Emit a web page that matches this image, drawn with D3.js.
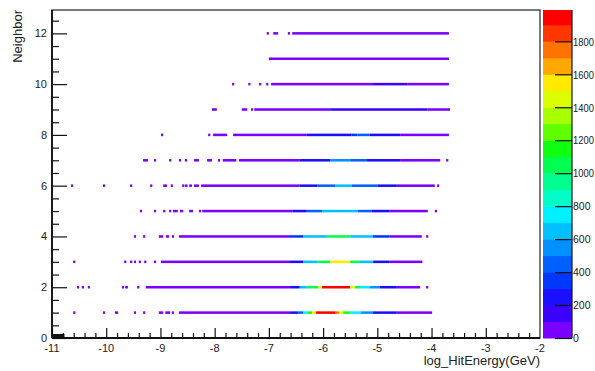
<!DOCTYPE html>
<html>
<head>
<meta charset="utf-8">
<script src="https://cdn.jsdelivr.net/npm/d3@7"></script>
<style>
  html, body { margin: 0; padding: 0; background: #fff; }
  svg { display: block; }
  text { font-family: "Liberation Sans", Arial, Helvetica, sans-serif; fill: #222; }
</style>
</head>
<body>
<svg id="chart" width="595" height="371"></svg>
<script>
// Neighbor rows (y bins) and their filled x-bins: [logE start, logE end, entries]
const neighbors = [1, 2, 3, 4, 5, 6, 7, 8, 9, 10, 11, 12];

const hitsN1 = [
  [-10.61, -10.57, 30], [-10.06, -10.02, 30], [-9.84, -9.78, 30], [-9.49, -9.45, 30],
  [-9.32, -9.28, 30], [-9.03, -8.95, 40], [-8.91, -8.82, 40], [-8.79, -8.75, 40],
  [-8.66, -6.61, 60], [-6.61, -6.46, 250], [-6.46, -6.37, 450], [-6.37, -6.28, 750],
  [-6.28, -6.20, 1100], [-6.20, -6.13, 1500], [-6.13, -5.78, 1950], [-5.78, -5.70, 1700],
  [-5.70, -5.63, 1450], [-5.63, -5.50, 1100], [-5.50, -5.30, 750], [-5.30, -5.08, 550],
  [-5.08, -4.64, 250], [-4.64, -3.99, 60]
];
const hitsN2 = [
  [-10.54, -10.50, 30], [-10.45, -10.41, 30], [-10.34, -10.30, 30], [-9.71, -9.67, 30],
  [-9.65, -9.60, 30], [-9.43, -9.39, 30],
  [-9.27, -6.61, 60], [-6.61, -6.43, 250], [-6.43, -6.30, 600], [-6.30, -6.09, 1050],
  [-6.09, -6.02, 1450], [-6.02, -5.50, 1950], [-5.50, -5.41, 1450], [-5.41, -5.32, 1050],
  [-5.32, -5.14, 750], [-5.14, -4.95, 550], [-4.95, -4.64, 250], [-4.64, -4.21, 60],
  [-4.10, -4.06, 30]
];
const hitsN3 = [
  [-10.61, -10.57, 30], [-9.67, -9.63, 30], [-9.56, -9.52, 30], [-9.49, -9.45, 30],
  [-9.40, -9.36, 30], [-9.30, -9.26, 30], [-9.12, -9.08, 30],
  [-8.99, -6.61, 60], [-6.61, -6.37, 250], [-6.37, -6.11, 650], [-6.11, -5.87, 1050],
  [-5.87, -5.50, 1550], [-5.50, -5.32, 1050], [-5.32, -5.08, 650], [-5.08, -4.77, 250],
  [-4.77, -4.17, 60]
];
const hitsN4 = [
  [-9.49, -9.45, 30], [-9.32, -9.28, 30], [-9.03, -8.95, 40], [-8.90, -8.84, 40],
  [-8.79, -8.75, 30],
  [-8.66, -6.61, 60], [-6.61, -6.37, 300], [-6.37, -5.93, 650], [-5.93, -5.50, 1000],
  [-5.50, -5.08, 650], [-5.08, -4.77, 300], [-4.77, -4.18, 60], [-4.10, -4.06, 30]
];
const hitsN5 = [
  [-9.38, -9.34, 30], [-9.12, -9.08, 30], [-8.95, -8.91, 30], [-8.84, -8.80, 30],
  [-8.77, -8.68, 40], [-8.64, -8.58, 40], [-8.47, -8.40, 40], [-8.29, -8.25, 30],
  [-8.23, -6.56, 60], [-6.56, -6.30, 250], [-6.30, -6.02, 450], [-6.02, -5.36, 650],
  [-5.36, -5.10, 450], [-5.10, -4.77, 250], [-4.77, -4.07, 60], [-3.94, -3.90, 30]
];
const hitsN6 = [
  [-10.65, -10.61, 30], [-10.06, -10.02, 30], [-9.56, -9.52, 30], [-9.19, -9.15, 30],
  [-8.95, -8.88, 40], [-8.81, -8.77, 30], [-8.60, -8.56, 30], [-8.55, -8.50, 40],
  [-8.47, -8.42, 40], [-8.38, -8.29, 40],
  [-8.25, -6.43, 60], [-6.43, -6.10, 250], [-6.10, -5.78, 400], [-5.78, -5.47, 600],
  [-5.47, -5.00, 400], [-5.00, -4.64, 250], [-4.64, -3.94, 60], [-3.90, -3.86, 30]
];
const hitsN7 = [
  [-9.32, -9.23, 40], [-9.12, -9.08, 30], [-8.84, -8.80, 30], [-8.66, -8.62, 30],
  [-8.55, -8.51, 30], [-8.38, -8.29, 40], [-8.14, -8.05, 40], [-7.94, -7.90, 30],
  [-7.85, -7.60, 40],
  [-7.55, -6.43, 60], [-6.43, -5.87, 250], [-5.87, -5.50, 500], [-5.50, -5.19, 400],
  [-5.19, -4.58, 250], [-4.58, -3.84, 60], [-3.73, -3.69, 30]
];
const hitsN8 = [
  [-8.99, -8.95, 30], [-8.12, -8.08, 30], [-8.03, -7.77, 40],
  [-7.66, -6.30, 60], [-6.30, -5.48, 200], [-5.48, -5.37, 300], [-5.37, -5.14, 450],
  [-5.14, -4.58, 200], [-4.58, -3.68, 60]
];
const hitsN9 = [
  [-8.05, -7.96, 40], [-7.50, -7.40, 40], [-7.33, -7.29, 30],
  [-7.27, -5.87, 60], [-5.87, -4.08, 170], [-4.08, -3.66, 60]
];
const hitsN10 = [
  [-7.68, -7.64, 30], [-7.38, -7.34, 30], [-7.18, -7.14, 30], [-7.05, -7.01, 30],
  [-6.96, -5.08, 60], [-5.08, -4.45, 170], [-4.45, -3.68, 60]
];
const hitsN11 = [
  [-7.00, -3.68, 60]
];
const hitsN12 = [
  [-7.04, -7.00, 40], [-6.92, -6.83, 40], [-6.65, -6.61, 40],
  [-6.57, -3.68, 60]
];
const hitsByNeighbor = [hitsN1, hitsN2, hitsN3, hitsN4, hitsN5, hitsN6,
                        hitsN7, hitsN8, hitsN9, hitsN10, hitsN11, hitsN12];

// Axis ranges and tick labels
const xDomain = [-11, -2];
const yDomain = [0, 12.92];
const zDomain = [0, 1990];
const xTicks = [-11, -10, -9, -8, -7, -6, -5, -4, -3, -2];
const yTicks = [0, 2, 4, 6, 8, 10, 12];
const zTicks = [0, 200, 400, 600, 800, 1000, 1200, 1400, 1600, 1800];
const binHalfHeight = 0.05;

// 20-level rainbow palette, low to high
const palette = [
  "#7a00ff", "#3c00ff", "#1a10ff", "#0038ff", "#0060ff",
  "#0090ff", "#00c0ff", "#00f0ff", "#00ffc8", "#00ff90",
  "#00ff50", "#10ff10", "#60ff00", "#a8ff00", "#dcff00",
  "#ffea00", "#ffa800", "#ff7400", "#ff3600", "#ff0000"
];

const svg = d3.select("#chart");
const plot = { left: 52, right: 540, top: 10, bottom: 338 };
const bar = { left: 543, right: 572 };

const x = d3.scaleLinear().domain(xDomain).range([plot.left, plot.right]);
const y = d3.scaleLinear().domain(yDomain).range([plot.bottom, plot.top]);
const z = d3.scaleLinear().domain(zDomain).range([plot.bottom, plot.top]);
const color = d3.scaleQuantize().domain([0, 2000]).range(palette);

// Soft edge for the histogram cells
svg.append("defs").append("filter")
  .attr("id", "soft").attr("x", "-5%").attr("y", "-50%")
  .attr("width", "110%").attr("height", "200%")
  .append("feGaussianBlur").attr("stdDeviation", 0.4);

// Frame
svg.append("rect")
  .attr("x", plot.left).attr("y", plot.top)
  .attr("width", plot.right - plot.left).attr("height", plot.bottom - plot.top)
  .attr("fill", "none").attr("stroke", "#222").attr("stroke-width", 1.2);

// Histogram cells
const cells = svg.append("g").attr("filter", "url(#soft)");
hitsByNeighbor.forEach((hits, i) => {
  const n = neighbors[i];
  cells.selectAll(null)
    .data(hits)
    .join("rect")
    .attr("x", d => x(d[0]))
    .attr("width", d => x(d[1]) - x(d[0]))
    .attr("y", y(n + binHalfHeight))
    .attr("height", y(n - binHalfHeight) - y(n + binHalfHeight))
    .attr("fill", d => color(d[2]));
});

// X axis: major ticks every 1, minor every 0.2
const xAxis = svg.append("g").attr("transform", `translate(0,${plot.bottom})`);
xAxis.call(d3.axisBottom(x).tickValues(d3.range(-11, -2.0001, 0.2)).tickSize(0).tickFormat(""));
xAxis.select(".domain").remove();
xAxis.selectAll(".tick line").remove();
xAxis.selectAll(".tick").append("line")
  .attr("y1", 0)
  .attr("y2", d => Math.abs(d - Math.round(d)) < 1e-6 ? -10 : -5)
  .attr("stroke", "#111").attr("stroke-width", 1.2);
xTicks.forEach(t => {
  svg.append("text")
    .attr("x", x(t)).attr("y", 352)
    .attr("text-anchor", "middle").attr("font-size", 11)
    .text(t);
});

// Y axis: major ticks every 2, minor every 0.5
const yAxis = svg.append("g").attr("transform", `translate(${plot.left},0)`);
yAxis.call(d3.axisLeft(y).tickValues(d3.range(0, 12.9, 0.5)).tickSize(0).tickFormat(""));
yAxis.select(".domain").remove();
yAxis.selectAll(".tick line").remove();
yAxis.selectAll(".tick").append("line")
  .attr("x1", 0)
  .attr("x2", d => d % 2 === 0 ? 15 : 7)
  .attr("stroke", "#111").attr("stroke-width", 1.2);
yTicks.forEach(t => {
  svg.append("text")
    .attr("x", 47).attr("y", y(t)).attr("dy", "0.36em")
    .attr("text-anchor", "end").attr("font-size", 11)
    .text(t);
});

// Heavier axis lines on the left and bottom
svg.append("line").attr("x1", plot.left).attr("x2", plot.left)
  .attr("y1", plot.top).attr("y2", plot.bottom)
  .attr("stroke", "#111").attr("stroke-width", 1.8);
svg.append("line").attr("x1", plot.left).attr("x2", plot.right)
  .attr("y1", plot.bottom).attr("y2", plot.bottom)
  .attr("stroke", "#111").attr("stroke-width", 1.8);
svg.append("rect").attr("x", x(-10.98)).attr("width", x(-10.77) - x(-10.98))
  .attr("y", plot.bottom - 4).attr("height", 4).attr("fill", "#111");

// Axis titles
svg.append("text")
  .attr("x", plot.right).attr("y", 365)
  .attr("text-anchor", "end").attr("font-size", 13)
  .text("log_HitEnergy(GeV)");
svg.append("text")
  .attr("transform", `translate(22,${plot.top}) rotate(-90)`)
  .attr("text-anchor", "end").attr("font-size", 13)
  .text("Neighbor");

// Colour scale bar
const levels = d3.range(0, 2000, 100);
svg.append("g").selectAll("rect")
  .data(levels)
  .join("rect")
  .attr("x", bar.left)
  .attr("width", bar.right - bar.left)
  .attr("y", d => Math.max(plot.top, z(d + 100)))
  .attr("height", d => z(d) - Math.max(plot.top, z(d + 100)) + 0.5)
  .attr("fill", d => color(d + 50));
svg.append("line").attr("x1", bar.right).attr("x2", bar.right)
  .attr("y1", plot.top).attr("y2", plot.bottom)
  .attr("stroke", "#111").attr("stroke-width", 1.2);
const zAxis = svg.append("g").attr("transform", `translate(${bar.right},0)`);
zAxis.call(d3.axisRight(z).tickValues(zTicks).tickSize(0).tickFormat(""));
zAxis.select(".domain").remove();
zAxis.selectAll(".tick line").remove();
zAxis.selectAll(".tick").append("line")
  .attr("x1", 0).attr("x2", -17)
  .attr("stroke", "#111").attr("stroke-width", 1.2);
// Narrow margin on the right: four-digit labels are condensed to fit
zAxis.selectAll(".tick").append("text")
  .attr("x", 1).attr("dy", "0.36em")
  .attr("font-size", 10.5).attr("text-anchor", "start")
  .attr("textLength", d => d >= 1000 ? 21 : null)
  .attr("lengthAdjust", "spacingAndGlyphs")
  .text(d => d);
</script>
</body>
</html>
